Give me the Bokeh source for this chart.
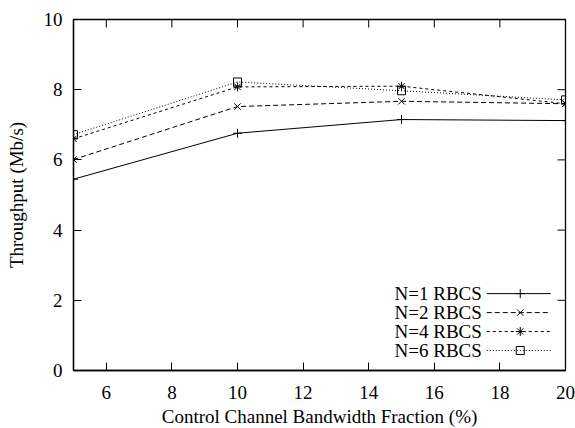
import math
from bokeh.plotting import figure
from bokeh.models import FixedTicker, Range1d, Title
from bokeh.core.properties import value
from bokeh.embed import file_html
from bokeh.resources import INLINE

# ---- data ----
x_vals = [5, 10, 15, 20]
n1 = [5.45, 6.76, 7.15, 7.12]
n2 = [6.01, 7.52, 7.67, 7.60]
n4 = [6.60, 8.08, 8.10, 7.60]
n6 = [6.72, 8.22, 7.97, 7.71]
series_names = ["N=1 RBCS", "N=2 RBCS", "N=4 RBCS", "N=6 RBCS"]
x_ticks = [6, 8, 10, 12, 14, 16, 18, 20]
y_ticks = [0, 2, 4, 6, 8, 10]
x_title = "Control Channel Bandwidth Fraction (%)"
y_title = "Throughput (Mb/s)"

FONT = "Liberation Serif"
FS = "19px"

p = figure(width=575, height=428, output_backend="svg", toolbar_location=None,
           x_range=Range1d(5, 20), y_range=Range1d(0, 10),
           min_border_left=73, min_border_right=10, min_border_top=19, min_border_bottom=58)
p.grid.visible = False
p.outline_line_color = "black"
p.outline_line_width = 1.3
p.background_fill_color = "white"

xa = p.xaxis[0]
ya = p.yaxis[0]
xa.ticker = FixedTicker(ticks=x_ticks)
ya.ticker = FixedTicker(ticks=y_ticks)
for ax in (xa, ya):
    ax.axis_line_color = "black"
    ax.axis_line_width = 1.3
    ax.major_tick_in = 8
    ax.major_tick_out = 0
    ax.minor_tick_line_color = None
    ax.major_tick_line_color = "black"
    ax.major_label_text_font = FONT
    ax.major_label_text_font_size = FS
    ax.major_label_text_color = "black"
    ax.axis_label_text_font = FONT
    ax.axis_label_text_font_size = FS
    ax.axis_label_text_font_style = "normal"
    ax.axis_label_text_color = "black"
xa.major_label_standoff = 15
ya.major_label_standoff = 11
ya.axis_label = y_title
ya.axis_label_standoff = 14

# x-axis title as a title panel below the axis
p.add_layout(Title(text=x_title, align="center", text_font=FONT, text_font_size=FS,
                   text_font_style="normal", text_color="black", standoff=4, offset=0),
             "below")

# mirrored ticks on top and right edges
p.ray(x=x_ticks, y=[p.y_range.end] * len(x_ticks), length=8, length_units="screen",
      angle=-math.pi / 2, line_color="black", line_width=1)
p.ray(x=[p.x_range.end] * len(y_ticks), y=y_ticks, length=8, length_units="screen",
      angle=math.pi, line_color="black", line_width=1)

styles = [
    dict(dash="solid", marker="cross", size=9, data=n1),
    dict(dash="5 3", marker="x", size=9, data=n2),
    dict(dash="3 3", marker="asterisk", size=9, data=n4),
    dict(dash="1 2", marker="square", size=8, data=n6),
]

# legend layout (data coords of the fixed ranges)
leg_y = [2.19, 1.65, 1.11, 0.57]
leg_text_x = 17.45
leg_x0, leg_x1, leg_mx = 17.6, 19.55, 18.62

for name, st, ly in zip(series_names, styles, leg_y):
    p.line(x_vals, st["data"], line_color="black", line_width=1, line_dash=st["dash"])
    p.scatter(x_vals, st["data"], marker=st["marker"], size=st["size"],
              line_color="black", fill_color=None, line_width=1)
    p.line([leg_x0, leg_x1], [ly, ly], line_color="black", line_width=1, line_dash=st["dash"])
    p.scatter([leg_mx], [ly], marker=st["marker"], size=st["size"],
              line_color="black", fill_color=None, line_width=1)
    p.text([leg_text_x], [ly], text=[name], text_font=value(FONT), text_font_size=FS,
           text_align="right", text_baseline="middle", text_color="black")

open("out.html", "w").write(file_html(p, INLINE))
